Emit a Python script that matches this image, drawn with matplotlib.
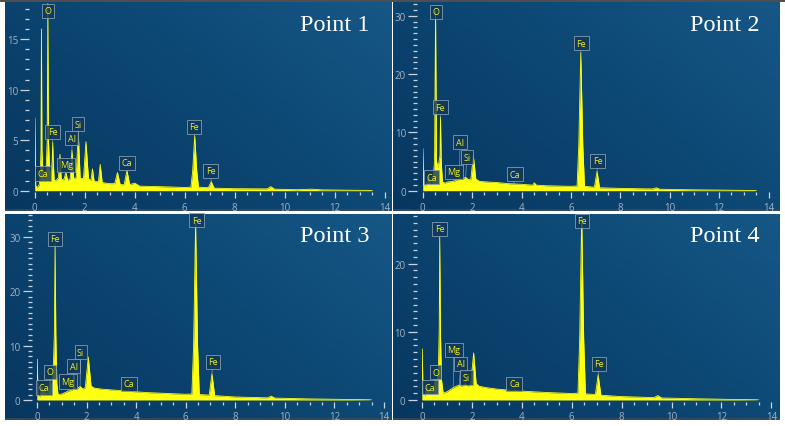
import numpy as np
import matplotlib
matplotlib.use("Agg")
import matplotlib.pyplot as plt
from matplotlib.colors import LinearSegmentedColormap

# ---------------- data (energy keV, counts cps/eV) ----------------
energy_1 = [0.00, 0.01, 0.04, 0.10, 0.18, 0.22, 0.25, 0.27, 0.29, 0.33, 0.38, 0.45, 0.50, 0.525, 0.55,
            0.60, 0.66, 0.70, 0.72, 0.74, 0.78, 0.85, 0.95, 1.01, 1.06, 1.15, 1.25, 1.32, 1.42, 1.49,
            1.56, 1.66, 1.74, 1.82, 1.95, 2.05, 2.15, 2.25, 2.31, 2.38, 2.55, 2.62, 2.70, 3.00, 3.20,
            3.31, 3.42, 3.58, 3.69, 3.80, 4.00, 4.20, 5.00, 6.00, 6.25, 6.32, 6.40, 6.48, 6.55, 6.95,
            7.06, 7.18, 8.00, 9.30, 9.44, 9.60, 10.50, 11.10, 11.50, 12.50, 13.40, 13.50]
counts_1 = [0.0, 7.2, 0.5, 0.3, 0.6, 1.5, 4.0, 16.0, 4.0, 1.8, 1.0, 1.5, 5.0, 18.5, 5.0,
            2.0, 1.5, 3.0, 4.8, 3.0, 1.0, 1.0, 1.3, 3.6, 1.2, 1.0, 1.8, 1.0, 1.2, 4.0,
            1.2, 1.3, 5.9, 1.2, 1.2, 4.85, 1.2, 1.0, 2.15, 0.9, 0.9, 2.6, 0.8, 0.7, 0.7,
            1.8, 0.6, 0.6, 2.0, 0.6, 0.75, 0.45, 0.4, 0.32, 0.35, 2.0, 5.45, 2.0, 0.35, 0.3,
            0.9, 0.25, 0.2, 0.18, 0.4, 0.15, 0.1, 0.15, 0.08, 0.05, 0.03, 0.0]

energy_2 = [0.00, 0.01, 0.04, 0.10, 0.18, 0.25, 0.30, 0.35, 0.42, 0.48, 0.52, 0.56, 0.62, 0.70, 0.72,
            0.75, 0.80, 0.90, 1.00, 1.25, 1.49, 1.60, 1.74, 1.85, 1.95, 2.05, 2.15, 2.30, 2.60, 3.00,
            3.50, 4.00, 4.45, 4.52, 4.60, 5.00, 6.00, 6.25, 6.32, 6.40, 6.48, 6.55, 6.95, 7.06, 7.16,
            8.00, 9.30, 9.46, 9.60, 11.00, 12.50, 13.40, 13.50]
counts_2 = [0.0, 7.2, 1.0, 0.8, 1.5, 2.5, 1.5, 1.0, 2.0, 5.0, 30.8, 5.0, 4.0, 6.0, 12.6,
            5.0, 1.5, 1.3, 1.5, 1.6, 2.0, 2.0, 2.3, 1.9, 2.0, 6.0, 2.0, 1.6, 1.5, 1.4,
            1.2, 1.1, 0.95, 1.35, 0.95, 0.85, 0.75, 0.8, 8.0, 23.7, 8.0, 0.75, 0.6, 3.3, 0.5,
            0.4, 0.3, 0.5, 0.25, 0.15, 0.08, 0.03, 0.0]

energy_3 = [0.00, 0.01, 0.04, 0.12, 0.20, 0.26, 0.32, 0.38, 0.45, 0.53, 0.60, 0.66, 0.70, 0.73, 0.76,
            0.80, 0.85, 1.00, 1.25, 1.40, 1.49, 1.60, 1.74, 1.85, 1.95, 2.07, 2.18, 2.30, 2.60, 3.00,
            3.50, 4.00, 4.50, 5.00, 5.50, 6.00, 6.25, 6.32, 6.40, 6.48, 6.55, 6.95, 7.06, 7.17, 8.00,
            9.30, 9.45, 9.60, 11.00, 12.50, 13.40, 13.50]
counts_3 = [0.0, 7.5, 0.8, 0.6, 2.5, 1.0, 2.0, 1.0, 1.5, 3.5, 2.5, 6.0, 12.1, 28.4, 12.0,
            3.0, 1.0, 1.1, 1.6, 1.8, 2.2, 2.0, 2.5, 2.0, 2.3, 7.9, 2.6, 2.2, 2.0, 1.85,
            1.7, 1.5, 1.35, 1.25, 1.15, 1.05, 1.1, 10.0, 32.5, 10.0, 1.0, 0.9, 4.8, 0.8, 0.55,
            0.4, 0.7, 0.35, 0.2, 0.1, 0.05, 0.0]

energy_4 = [0.00, 0.01, 0.04, 0.12, 0.20, 0.26, 0.32, 0.38, 0.45, 0.53, 0.60, 0.66, 0.69, 0.71, 0.74,
            0.78, 0.85, 1.00, 1.25, 1.49, 1.60, 1.74, 1.85, 1.95, 2.07, 2.17, 2.30, 2.60, 3.00, 3.50,
            4.00, 4.50, 5.00, 6.00, 6.25, 6.32, 6.40, 6.48, 6.55, 6.95, 7.06, 7.17, 8.00, 9.30, 9.45,
            9.60, 11.00, 12.50, 13.40, 13.50]
counts_4 = [0.0, 7.5, 1.0, 0.6, 2.0, 1.0, 1.8, 0.8, 1.5, 3.0, 2.5, 5.0, 10.4, 23.9, 10.0,
            3.0, 1.0, 1.2, 1.8, 2.2, 2.0, 2.4, 2.0, 2.3, 6.9, 2.4, 2.0, 1.8, 1.6, 1.45,
            1.3, 1.2, 1.1, 0.95, 1.0, 9.0, 27.0, 9.0, 0.9, 0.8, 3.7, 0.7, 0.5, 0.35, 0.65,
            0.3, 0.18, 0.08, 0.04, 0.0]

titles = ["Point 1", "Point 2", "Point 3", "Point 4"]

# element tags: (element, line energy, tag energy, tag height)
tags_1 = [("O", 0.525, 0.53, 17.8), ("Fe", 0.72, 0.71, 5.84), ("Al", 1.49, 1.49, 5.2),
          ("Si", 1.74, 1.74, 6.6), ("Mg", 1.25, 1.27, 2.55), ("Ca", 0.33, 0.33, 1.7),
          ("Ca", 3.69, 3.68, 2.77), ("Fe", 6.40, 6.37, 6.35), ("Fe", 7.06, 7.03, 1.97)]
tags_2 = [("O", 0.52, 0.55, 30.7), ("Fe", 0.72, 0.71, 14.3), ("Al", 1.49, 1.51, 8.3),
          ("Si", 1.74, 1.79, 5.75), ("Mg", 1.25, 1.26, 3.26), ("Ca", 0.34, 0.35, 2.35),
          ("Ca", 3.69, 3.74, 2.8), ("Fe", 6.40, 6.42, 25.3), ("Fe", 7.06, 7.09, 5.1)]
tags_3 = [("Fe", 0.73, 0.73, 29.65), ("O", 0.53, 0.54, 5.2), ("Ca", 0.34, 0.29, 2.3),
          ("Mg", 1.25, 1.24, 3.4), ("Al", 1.49, 1.49, 6.2), ("Si", 1.74, 1.76, 8.8),
          ("Ca", 3.69, 3.72, 2.95), ("Fe", 6.40, 6.44, 33.0), ("Fe", 7.06, 7.10, 7.0)]
tags_4 = [("Fe", 0.71, 0.71, 25.1), ("Mg", 1.25, 1.27, 7.35), ("Al", 1.49, 1.56, 5.3),
          ("Si", 1.74, 1.78, 3.3), ("O", 0.53, 0.54, 4.1), ("Ca", 0.34, 0.32, 1.9),
          ("Ca", 3.69, 3.70, 2.4), ("Fe", 6.40, 6.41, 26.3), ("Fe", 7.06, 7.09, 5.3)]

# ---------------- layout (pixels) ----------------
W, H = 785, 427
fig = plt.figure(figsize=(W / 100, H / 100), dpi=100, facecolor="white")

# panel rectangles: (x_left, y_top, x_right, y_bottom)
panels = [(4.5, 3.0, 391.0, 211.5), (393.0, 3.0, 780.0, 211.5),
          (4.5, 214.5, 391.0, 421.0), (393.0, 214.5, 780.0, 421.0)]
# axes mapping: (px of 0 keV, px of 14 keV, px of y=0, y max shown, major y step)
axmap = [(34.7, 384.7, 191.7, 18.68, 5), (422.7, 768.5, 191.7, 32.37, 10),
         (37.0, 383.9, 401.0, 34.25, 10), (422.0, 771.3, 401.0, 27.35, 10)]
title_px = [(370, 30.7), (760, 30.7), (370, 242.0), (760, 242.0)]

def fr(x0, ytop, x1, ybot):
    return [x0 / W, 1 - ybot / H, (x1 - x0) / W, (ybot - ytop) / H]

cmap = LinearSegmentedColormap.from_list("bg", ["#073760", "#0c4672", "#165786"])
ny, nx = 100, 200
gy, gx = np.mgrid[0:ny, 0:nx]
grad = 0.6 * (gx / nx) + 0.4 * (1 - gy / ny)

# top grey strip
strip = fig.add_axes([0, 1 - 3 / H, 1, 3 / H])
strip.set_facecolor("#4d4f52")
strip.set_xticks([]); strip.set_yticks([])
for s in strip.spines.values():
    s.set_visible(False)

spectra = [(energy_1, counts_1, tags_1), (energy_2, counts_2, tags_2),
           (energy_3, counts_3, tags_3), (energy_4, counts_4, tags_4)]

tickc = "#c9d3dd"
labc = "#a3b3c4"
tickfont = "Open Sans"

for i, (rect, am, (en, ct, tags), title) in enumerate(zip(panels, axmap, spectra, titles)):
    bg = fig.add_axes(fr(*rect))
    bg.imshow(grad, cmap=cmap, aspect="auto", extent=[0, 1, 0, 1], origin="upper")
    bg.set_axis_off()
    bg.axhline(0.004, color="#3a4a5a", lw=1.2)

    x0, x14, y0, ymax, ystep = am
    ytop = rect[1]
    ax = fig.add_axes(fr(x0, ytop, x14, y0))
    ax.set_facecolor("none")
    ax.set_xlim(0, 14)
    ax.set_ylim(0, ymax)
    for s in ax.spines.values():
        s.set_visible(False)
    ax.spines["bottom"].set_position(("outward", 1.2))
    ax.spines["left"].set_position(("outward", 3.9))

    e = np.array(en)
    c = np.array(ct)
    ax.fill_between(e, 0, c, color="#ffff10", lw=0, zorder=2)
    ax.plot(e, c, color="#ffff10", lw=0.6, zorder=2)

    ax.set_xticks(np.arange(0, 15, 2))
    ax.set_xticks(np.arange(0, 14.01, 0.5), minor=True)
    ax.set_yticks(np.arange(0, ymax, ystep))
    ax.set_yticks(np.arange(0, ymax, 1), minor=True)
    ax.tick_params(axis="x", which="major", direction="out", length=4.3, width=0.9,
                   color=tickc, labelcolor=labc, labelsize=7, pad=2.3)
    ax.tick_params(axis="x", which="minor", direction="out", length=2.0, width=0.9, color=tickc)
    ax.tick_params(axis="y", which="major", direction="out", length=6.5, width=0.9,
                   color=tickc, labelcolor=labc, labelsize=7, pad=1.5)
    ax.tick_params(axis="y", which="minor", direction="out", length=2.6, width=0.9, color=tickc)
    for lab in ax.get_xticklabels() + ax.get_yticklabels():
        lab.set_fontfamily(tickfont)

    for el, le, te, th in tags:
        py = float(np.interp(le, e, c))
        ax.annotate(el, xy=(le, py), xytext=(te, th), textcoords="data",
                    ha="center", va="center", fontsize=6.5, color="#eeee20",
                    fontfamily=tickfont, zorder=5, annotation_clip=False,
                    bbox=dict(boxstyle="square,pad=0.28", fc="#123858", ec="#8aa2b8",
                              lw=0.7, alpha=0.8),
                    arrowprops=dict(arrowstyle="-", color="#9ab0c4", lw=0.5,
                                    shrinkA=0, shrinkB=0, alpha=0.8))

    tx, ty = title_px[i]
    fig.text(tx / W, 1 - ty / H, title, ha="right", va="baseline",
             fontsize=17.5, color="white", fontfamily="Liberation Serif", zorder=10)

fig.savefig("out.png", dpi=100, facecolor="white")
